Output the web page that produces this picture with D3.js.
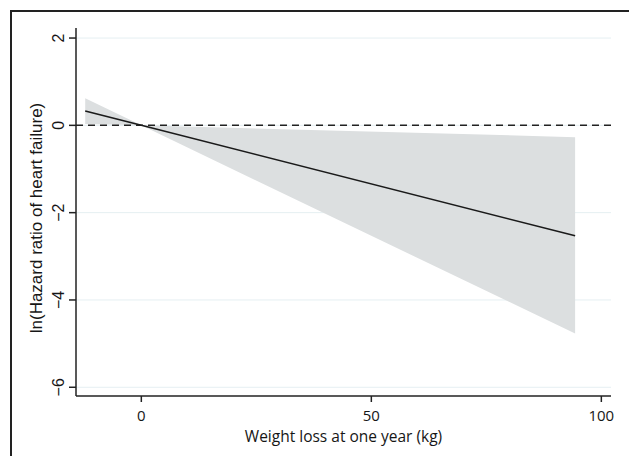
<!DOCTYPE html>
<html>
<head>
<meta charset="utf-8">
<script src="https://cdn.jsdelivr.net/npm/d3@7"></script>
<style>
  body { margin: 0; background: #fff; }
  svg text { fill: #161616; }
</style>
</head>
<body>
<div id="chart"></div>
<script>
const width = 629
const height = 456

// fitted line and 95% CI, weight loss (kg) vs ln(HR)
const weightLoss = [-12.2, 0, 94.3]
const fitLogHR = [0.33, 0, -2.53]
const lowerCI = [0.03, 0, -4.77]
const upperCI = [0.62, 0, -0.27]

const xTicks = [0, 50, 100]
const yTicks = [2, 0, -2, -4, -6]

const x = d3.scaleLinear().domain([-14.2, 102.1]).range([76, 611])
const y = d3.scaleLinear().domain([-6.2, 2.23]).range([396, 28])

const svg = d3.select("#chart").append("svg").attr("width", width).attr("height", height)

// outer frame (only top/left visible in the crop)
svg.append("path").attr("d", `M11,${height} L11,11 L${width},11`).attr("fill", "none").attr("stroke", "#222").attr("stroke-width", 2)

// gridlines
svg.selectAll(".grid")
  .data(yTicks)
  .enter()
  .append("line")
  .attr("x1", x.range()[0])
  .attr("x2", x.range()[1])
  .attr("y1", (d) => y(d))
  .attr("y2", (d) => y(d))
  .attr("stroke", "#e5eff2")
  .attr("stroke-width", 1)

const pts = weightLoss.map((w, i) => ({ w, fit: fitLogHR[i], lo: lowerCI[i], hi: upperCI[i] }))

// confidence band
const area = d3.area().x((d) => x(d.w)).y0((d) => y(d.lo)).y1((d) => y(d.hi))
svg.append("path").datum(pts).attr("d", area).attr("fill", "#dcdfe0")

// reference line at 0
svg.append("line")
  .attr("x1", x.range()[0])
  .attr("x2", x.range()[1])
  .attr("y1", y(0))
  .attr("y2", y(0))
  .attr("stroke", "#222")
  .attr("stroke-width", 1.5)
  .attr("stroke-dasharray", "7,5")

// fitted line
const line = d3.line().x((d) => x(d.w)).y((d) => y(d.fit))
svg.append("path").datum(pts).attr("d", line).attr("fill", "none").attr("stroke", "#1a1a1a").attr("stroke-width", 1.6)

// x axis
const xAxis = svg.append("g").attr("transform", `translate(0,396)`)
xAxis.append("line").attr("x1", x.range()[0]).attr("x2", x.range()[1]).attr("stroke", "#222").attr("stroke-width", 1.5)
xAxis.selectAll(".xt")
  .data(xTicks)
  .enter()
  .append("line")
  .attr("x1", (d) => x(d))
  .attr("x2", (d) => x(d))
  .attr("y1", 0)
  .attr("y2", 6)
  .attr("stroke", "#222")
  .attr("stroke-width", 1.5)
xAxis.selectAll(".xl")
  .data(xTicks)
  .enter()
  .append("text")
  .attr("x", (d) => x(d))
  .attr("y", 25)
  .attr("text-anchor", "middle")
  .style("font-family", "'Open Sans', sans-serif")
  .style("font-size", "15px")
  .text((d) => d)

svg.append("text")
  .attr("x", (x.range()[0] + x.range()[1]) / 2)
  .attr("y", 442)
  .attr("text-anchor", "middle")
  .style("font-family", "'Open Sans', sans-serif")
  .style("font-size", "15.5px")
  .text("Weight loss at one year (kg)")

// y axis
const yAxis = svg.append("g").attr("transform", `translate(76,0)`)
yAxis.append("line").attr("y1", y.range()[0]).attr("y2", y.range()[1]).attr("stroke", "#222").attr("stroke-width", 1.5)
yAxis.selectAll(".yt")
  .data(yTicks)
  .enter()
  .append("line")
  .attr("x1", -7)
  .attr("x2", 0)
  .attr("y1", (d) => y(d))
  .attr("y2", (d) => y(d))
  .attr("stroke", "#222")
  .attr("stroke-width", 1.5)
yAxis.selectAll(".yl")
  .data(yTicks)
  .enter()
  .append("text")
  .attr("transform", (d) => `translate(-12,${y(d)}) rotate(-90)`)
  .attr("text-anchor", "middle")
  .style("font-family", "'Liberation Sans', Arial, sans-serif")
  .style("font-size", "16px")
  .text((d) => (d < 0 ? "\u2212" + Math.abs(d) : d))

svg.append("text")
  .attr("transform", `translate(42,${(y.range()[0] + y.range()[1]) / 2 + 6}) rotate(-90)`)
  .attr("text-anchor", "middle")
  .style("font-family", "'Liberation Sans', Arial, sans-serif")
  .style("font-size", "17px")
  .text("ln(Hazard ratio of heart failure)")
</script>
</body>
</html>
